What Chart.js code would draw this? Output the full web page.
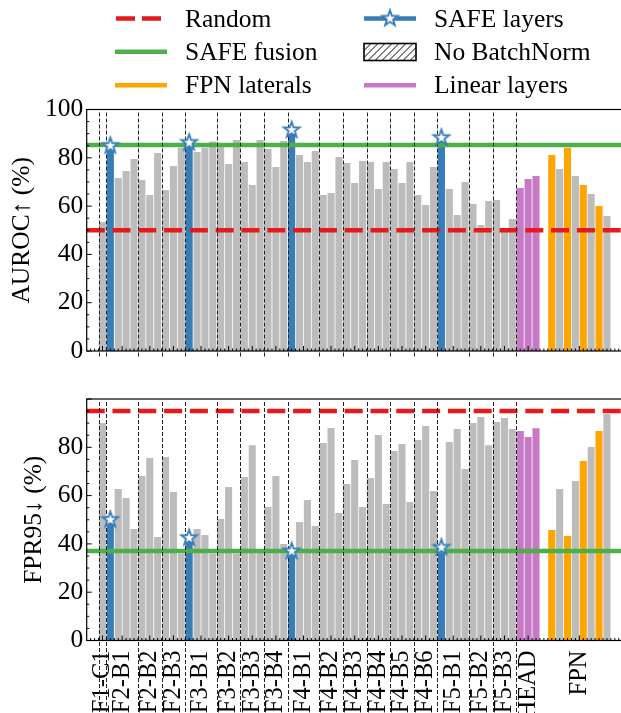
<!DOCTYPE html>
<html><head><meta charset="utf-8">
<script src="https://cdn.jsdelivr.net/npm/chart.js@4.4.1/dist/chart.umd.min.js"></script>
<style>
html,body{margin:0;padding:0;background:#fff;overflow:hidden;width:621px;height:713px;}
#wrap{position:relative;width:621px;height:713px;overflow:hidden;}
canvas{position:absolute;left:0;}
#c1{top:0;} #c2{top:370px;}
</style></head><body>
<div id="wrap"><canvas id="c1" width="624" height="370"></canvas><canvas id="c2" width="624" height="343"></canvas></div>
<script>
// ---- data ----
const groupNames = ["F1-C1","F2-B1","F2-B2","F2-B3","F3-B1","F3-B2","F3-B3","F3-B4","F4-B1","F4-B2","F4-B3","F4-B4","F4-B5","F4-B6","F5-B1","F5-B2","F5-B3","HEAD","FPN"];
const barKinds = ["g","sggg","ggg","ggg","sggg","ggg","ggg","ggg","sggg","ggg","ggg","ggg","ggg","ggg","sggg","ggg","ggg","hhh","fgfgfgfg"];
const aurocValues = [
  53.4,
  85.0, 71.6, 74.5, 79.5,
  70.8, 64.6, 82.0,
  66.7, 76.6, 84.2,
  86.3, 82.4, 84.2, 86.8,
  84.6, 77.4, 87.4,
  78.3, 68.7, 87.4,
  83.6, 76.2, 87.0,
  91.5, 81.2, 78.3, 82.8,
  64.6, 65.4, 80.3,
  77.8, 69.6, 78.7,
  78.3, 67.1, 78.3,
  75.4, 69.6, 78.3,
  64.6, 60.5, 76.2,
  88.3, 67.1, 56.3, 70.0,
  60.9, 52.2, 62.1,
  62.5, 49.5, 54.7,
  67.5, 71.2, 72.5,
  81.2, 75.4, 84.2, 72.5, 68.7, 65.0, 60.0, 55.9
];
const fpr95Values = [
  90.1,
  50.0, 62.7, 59.0, 46.2,
  68.1, 75.6, 42.9,
  76.0, 61.5, 36.0,
  42.5, 46.2, 43.7, 36.0,
  50.3, 63.6, 36.0,
  67.7, 80.9, 36.5,
  55.3, 68.1, 40.0,
  37.0, 49.1, 58.2, 47.4,
  81.8, 88.0, 52.8,
  64.8, 74.7, 55.3,
  67.3, 85.1, 56.5,
  78.5, 81.4, 57.3,
  83.0, 88.8, 61.9,
  38.5, 82.2, 87.6, 71.0,
  90.1, 92.5, 80.9,
  90.5, 92.1, 87.6,
  86.7, 84.3, 87.9,
  45.8, 62.7, 43.3, 66.0, 74.3, 80.1, 86.7, 93.8
];
const randomLevel = {auroc: 50, fpr95: 95};
const safeFusionLevel = {auroc: 85.3, fpr95: 37.1};
const aurocTicks = [0, 20, 40, 60, 80, 100];
const fprTicks = [0, 20, 40, 60, 80];
const legendLabels = ["Random", "SAFE fusion", "FPN laterals", "SAFE layers", "No BatchNorm", "Linear layers"];

// ---- derived layout (slot indices) ----
const kinds = barKinds.join("").split("");
const slotX = [], groupCenter = [], boundaries = [];
(function(){
  let pos = 0;
  barKinds.forEach((s, gi) => {
    if (groupNames[gi] === "FPN") pos += 1; else boundaries.push(pos - 0.5);
    groupCenter.push(pos + (s.length - 1) / 2);
    for (let k = 0; k < s.length; k++) slotX.push(pos++);
  });
})();

const COLORS = {g:'#bcbcbc', s:'#377eb8', h:'#c779c5', f:'#ffa500'};
const RED = '#e41a1c', GREEN = '#4daf4a';
Chart.defaults.font.family = '"Liberation Serif", "Times New Roman", serif';
Chart.defaults.color = '#000';

function makeStar(R, r, lw){
  const size = Math.ceil(2*R + lw + 3);
  const c = document.createElement('canvas'); c.width = c.height = size;
  const g = c.getContext('2d'); const cx = size/2, cy = size/2;
  g.beginPath();
  for (let i = 0; i < 10; i++) {
    const ang = -Math.PI/2 + i*Math.PI/5, rad = (i % 2) ? r : R;
    g.lineTo(cx + rad*Math.cos(ang), cy + rad*Math.sin(ang));
  }
  g.closePath(); g.fillStyle = '#fff'; g.fill();
  g.lineWidth = lw; g.strokeStyle = COLORS.s; g.lineJoin = 'miter'; g.stroke();
  return c;
}
const starImg = makeStar(8.2, 3.3, 1.9);

function datasets(values, key){
  const ds = Object.keys(COLORS).map(k => ({
    type: 'bar', order: 10,
    data: slotX.map((x, i) => ({x, y: values[i], k: kinds[i]})).filter(d => d.k === k),
    backgroundColor: COLORS[k], borderWidth: 0,
    barPercentage: 0.9, categoryPercentage: 1, grouped: false
  }));
  ds.push({type:'line', order:5, data:[{x:-2, y:safeFusionLevel[key]},{x:66, y:safeFusionLevel[key]}],
    borderColor: GREEN, borderWidth: 4.5, pointRadius: 0, fill: false});
  ds.push({type:'line', order:4, data:[{x:-2, y:randomLevel[key]},{x:66, y:randomLevel[key]}],
    borderColor: RED, borderWidth: 4.5, borderDash:[18, 7.8], borderCapStyle:'butt', pointRadius: 0, fill: false});
  ds.push({type:'line', order:1, showLine:false, clip:false,
    data: slotX.map((x, i) => ({x, y: values[i], k: kinds[i]})).filter(d => d.k === 's'),
    pointStyle: starImg, pointRadius: 9});
  return ds;
}

function drawVLines(chart, extend){
  const {ctx, chartArea:a, scales:{x}} = chart;
  ctx.save();
  ctx.strokeStyle = '#222'; ctx.lineWidth = 1; ctx.setLineDash([4, 2]);
  const yEnd = extend === 'canvas' ? chart.height : a.bottom + 7;
  boundaries.forEach(b => {
    const px = Math.round(x.getPixelForValue(b)) + 0.5;
    ctx.beginPath(); ctx.moveTo(px, a.top + 3); ctx.lineTo(px, yEnd); ctx.stroke();
  });
  ctx.restore();
}

function drawFrameTicks(chart){
  const {ctx, chartArea:a, scales:{x, y}} = chart;
  ctx.save();
  ctx.strokeStyle = '#000'; ctx.lineWidth = 1;
  for (let v = 0; v <= y.max + 1e-6; v += 5) {
    const py = y.getPixelForValue(v), major = v % 20 === 0;
    ctx.beginPath(); ctx.moveTo(a.left, py); ctx.lineTo(a.left + (major ? 5 : 2.5), py); ctx.stroke();
  }
  const majors = new Set(groupCenter.map(v => v.toFixed(1)));
  for (let v = -1.5; v <= 65.5 + 1e-6; v += 0.5) {
    if (majors.has(v.toFixed(1))) continue;
    const px = x.getPixelForValue(v);
    ctx.beginPath(); ctx.moveTo(px, a.bottom); ctx.lineTo(px, a.bottom - 2.5); ctx.stroke();
  }
  groupCenter.forEach(v => {
    const px = x.getPixelForValue(v);
    ctx.beginPath(); ctx.moveTo(px, a.bottom); ctx.lineTo(px, a.bottom - 5); ctx.stroke();
  });
  ctx.lineWidth = 1.2;
  ctx.strokeRect(a.left, a.top, a.right - a.left, a.bottom - a.top);
  ctx.restore();
}

function drawLegend(ctx){
  ctx.save();
  const lineY = [18.5, 51.8, 85.2], baseY = [26.7, 60.0, 93.2];
  const c1 = [115, 167], c2 = [364, 416];
  function seg(x0, x1, y, color, dash){
    ctx.beginPath(); ctx.setLineDash(dash || []); ctx.strokeStyle = color; ctx.lineWidth = 4.5;
    ctx.lineCap = 'butt'; ctx.moveTo(x0, y); ctx.lineTo(x1, y); ctx.stroke(); ctx.setLineDash([]);
  }
  seg(116, 161, lineY[0], RED, [19, 7]);
  seg(c1[0], c1[1], lineY[1], GREEN);
  seg(c1[0], c1[1], lineY[2], COLORS.f);
  seg(c2[0], c2[1], lineY[0], COLORS.s);
  ctx.drawImage(starImg, (c2[0]+c2[1])/2 - starImg.width/2, lineY[0] - starImg.height/2);
  const bx = c2[0], by = 43.5, bw = c2[1]-c2[0], bh = 17;
  ctx.save(); ctx.beginPath(); ctx.rect(bx, by, bw, bh); ctx.clip();
  ctx.strokeStyle = '#000'; ctx.lineWidth = 1;
  for (let k = -bh; k < bw + bh; k += 7) { ctx.beginPath(); ctx.moveTo(bx + k, by + bh); ctx.lineTo(bx + k + bh, by); ctx.stroke(); }
  ctx.restore();
  ctx.strokeStyle = '#000'; ctx.lineWidth = 1.6; ctx.strokeRect(bx, by, bw, bh);
  seg(c2[0], c2[1], lineY[2], COLORS.h);
  ctx.fillStyle = '#000'; ctx.font = '25.5px "Liberation Serif"'; ctx.textBaseline = 'alphabetic';
  for (let i = 0; i < 3; i++) ctx.fillText(legendLabels[i], 185, baseY[i]);
  for (let i = 0; i < 3; i++) ctx.fillText(legendLabels[3+i], 434, baseY[i]);
  ctx.restore();
}

const decor = {
  id: 'decor',
  beforeDatasetDraw(chart, args, opts){
    if (args.index === chart.data.datasets.length - 1) drawVLines(chart, opts.extend);
  },
  afterDraw(chart, args, opts){
    drawFrameTicks(chart);
    if (opts.legend) drawLegend(chart.ctx);
  }
};

function makeChart(id, values, key, o){
  return new Chart(document.getElementById(id), {
    type: 'bar',
    data: {datasets: datasets(values, key)},
    plugins: [decor],
    options: {
      responsive: false, animation: false,
      layout: {autoPadding: false, padding: {left: 0, right: 1.3, top: o.padTop, bottom: 0}},
      plugins: {legend: {display: false}, tooltip: {enabled: false}, decor: {extend: o.extend, legend: o.legend}},
      scales: {
        x: {type: 'linear', min: -2, max: 66, offset: false,
          grid: {display: false, drawTicks: false}, border: {display: false},
          afterBuildTicks: s => { s.ticks = groupCenter.map(v => ({value: v})); },
          ticks: {display: o.xLabels, autoSkip: false, minRotation: 90, maxRotation: 90, padding: 10,
            font: {size: 24.5}, color: '#000', callback: (v, i) => groupNames[i]},
          afterFit: s => { s.height = o.xHeight; s.paddingLeft = 0; s.paddingRight = 0; }},
        y: {type: 'linear', min: 0, max: 100,
          grid: {display: false, drawTicks: false}, border: {display: false},
          afterBuildTicks: s => { s.ticks = o.yTicks.map(v => ({value: v})); },
          ticks: {padding: 3.5, font: {size: 25.5}, color: '#000'},
          title: {display: true, text: o.title, font: {size: 25.5}, color: '#000', padding: {top: o.titlePad, bottom: 0}},
          afterFit: s => { s.width = 86.7; s.paddingTop = 0; s.paddingBottom = 0; }}
      }
    }
  });
}

makeChart('c1', aurocValues, 'auroc', {padTop: 109.5, xHeight: 19, xLabels: false, extend: 'short', legend: true,
  yTicks: aurocTicks, title: 'AUROC↑ (%)', titlePad: 6.5});
makeChart('c2', fpr95Values, 'fpr95', {padTop: 29, xHeight: 72.5, xLabels: true, extend: 'canvas', legend: false,
  yTicks: fprTicks, title: 'FPR95↓ (%)', titlePad: 18.5});
</script>
</body></html>
